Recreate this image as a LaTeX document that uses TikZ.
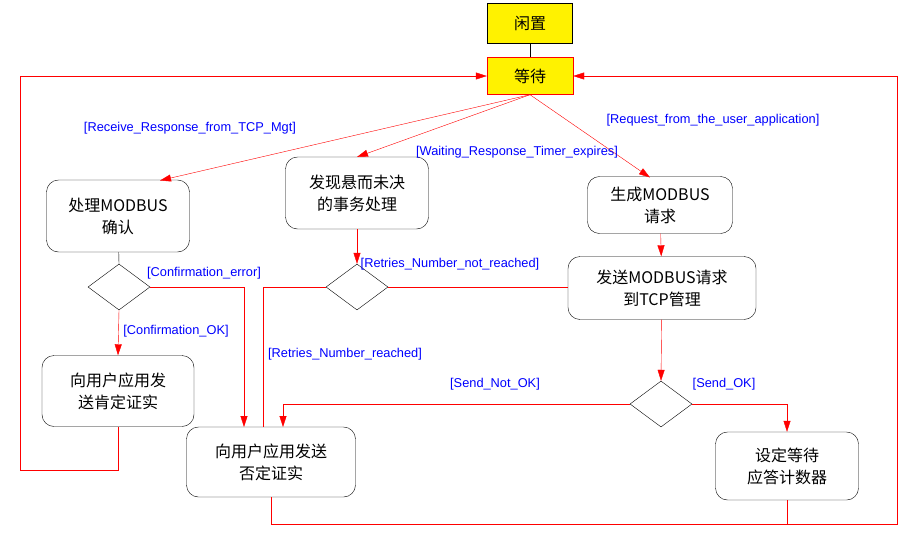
\documentclass[tikz,border=0pt]{standalone}
\usepackage{fontspec}
\setmainfont{Liberation Sans}
\newfontfamily\cjk{Noto Sans CJK SC}
\usetikzlibrary{arrows.meta,shapes.geometric}
\begin{document}
\begin{tikzpicture}[x=1pt,y=-1pt,
  st/.style={draw=black,rounded corners=12pt,align=center,font=\cjk\fontsize{16}{22}\selectfont,inner sep=0pt},
  yb/.style={fill=yellow,align=center,font=\cjk\fontsize{16}{20}\selectfont,inner sep=0pt},
  dia/.style={draw=black,diamond,minimum width=62pt,minimum height=46pt,inner sep=0pt},
  rl/.style={draw=red},
  ra/.style={draw=red,-{Triangle[length=11pt,width=7pt,fill=red]}},
  lb/.style={text=blue,font=\fontsize{12.8}{14}\selectfont,inner sep=1pt}]
\useasboundingbox (0,0) rectangle (921,546);
\node[yb,draw=black,minimum width=85pt,minimum height=40pt] (idle) at (530,23) {闲置};
\node[yb,draw=red,minimum width=86pt,minimum height=37pt] (wait) at (530,76) {等待};
\node[st,minimum width=143pt,minimum height=72pt] (A) at (118,216) {处理MODBUS\\确认};
\node[st,minimum width=143pt,minimum height=72pt] (B) at (357,193) {发现悬而未决\\的事务处理};
\node[st,minimum width=145pt,minimum height=57pt] (C) at (660,205) {生成MODBUS\\请求};
\node[st,minimum width=188pt,minimum height=63pt] (D) at (662,288) {发送MODBUS请求\\到TCP管理};
\node[st,minimum width=152pt,minimum height=71pt] (E) at (118,391) {向用户应用发\\送肯定证实};
\node[st,minimum width=169pt,minimum height=70pt] (F) at (271,462) {向用户应用发送\\否定证实};
\node[st,minimum width=143pt,minimum height=68pt] (G) at (787,466) {设定等待\\应答计数器};
\node[dia] (d1) at (119,287) {};
\node[dia] (d2) at (357,287) {};
\node[dia] (d3) at (661,404) {};
\coordinate (l1) at (20,470); \coordinate (l2) at (20,76);
\coordinate (r1) at (897,524); \coordinate (r2) at (897,76);
\draw (idle) -- (wait);
\draw[ra] (E.south) |- (l1) -- (l2) -- (wait.west);
\draw[ra] (F.south) |- (r1) -- (r2) -- (wait.east);
\draw[rl] (G.south) -- (G.south |- r1);
\draw[ra] (wait.south) -- (160,180.5);
\draw[ra] (wait.south) -- (357,157);
\draw[ra] (wait.south) -- (650,177.5);
\draw[ra] (C) -- (D);
\draw (A) -- (d1.north);
\draw[ra] (d1.east) -| (244,427);
\draw[ra] (d1.south) -- (E.north);
\draw[ra] (B) -- (d2.north);
\draw[rl] (d2.east) -- (D.west |- d2.east);
\draw[rl] (d2.west) -| (263,427);
\draw[ra] (D) -- (d3.north);
\draw[ra] (d3.west) -| (283,427);
\draw[ra] (d3.east) -| (G.north);
\node[lb] at (190,128) {[Receive\_Response\_from\_TCP\_Mgt]};
\node[lb] at (517,152) {[Waiting\_Response\_Timer\_expires]};
\node[lb] at (713,120) {[Request\_from\_the\_user\_application]};
\node[lb] at (204,273) {[Confirmation\_error]};
\node[lb] at (176,331) {[Confirmation\_OK]};
\node[lb] at (450,264) {[Retries\_Number\_not\_reached]};
\node[lb] at (345,354) {[Retries\_Number\_reached]};
\node[lb] at (495,384) {[Send\_Not\_OK]};
\node[lb] at (724,384) {[Send\_OK]};
\end{tikzpicture}
\end{document}
